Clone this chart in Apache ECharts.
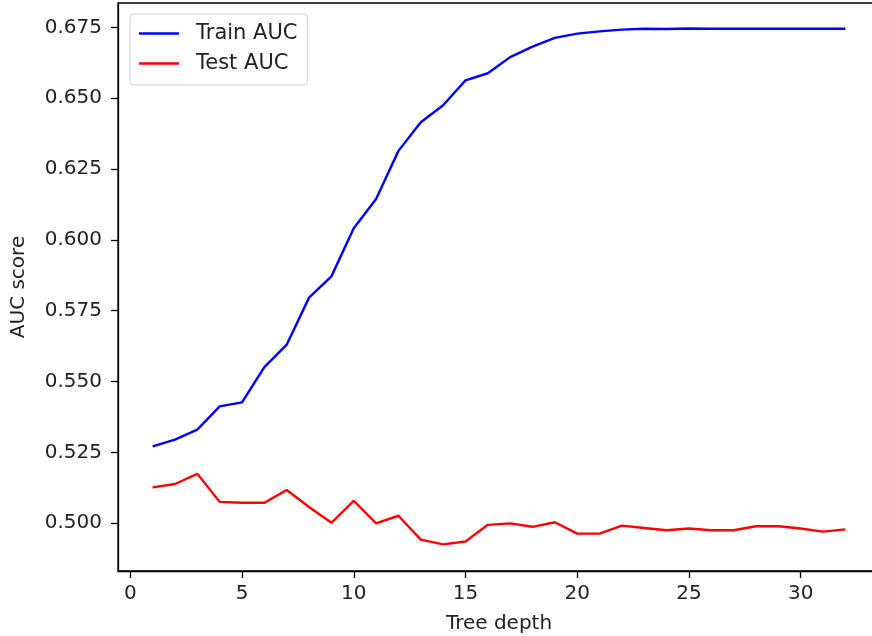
<!DOCTYPE html>
<html>
<head>
<meta charset="utf-8">
<script src="https://cdn.jsdelivr.net/npm/echarts@6/dist/echarts.min.js"></script>
<style>html,body{margin:0;padding:0;background:#fff}#c{width:872px;height:636px}</style>
</head>
<body>
<div id="c"></div>
<script>
const depths = [1,2,3,4,5,6,7,8,9,10,11,12,13,14,15,16,17,18,19,20,21,22,23,24,25,26,27,28,29,30,31,32];
const trainAUC = [0.5271,0.5295,0.5330,0.5412,0.5426,0.5551,0.5630,0.5796,0.5871,0.6041,0.6144,0.6314,0.6415,0.6475,0.6563,0.6588,0.6645,0.6682,0.6713,0.6728,0.6736,0.6742,0.6745,0.6744,0.6746,0.6745,0.6745,0.6745,0.6745,0.6745,0.6745,0.6745];
const testAUC = [0.5126,0.5138,0.5174,0.5075,0.5072,0.5072,0.5117,0.5057,0.5001,0.5079,0.4999,0.5026,0.4942,0.4925,0.4935,0.4994,0.4999,0.4987,0.5003,0.4963,0.4963,0.4991,0.4983,0.4975,0.4981,0.4975,0.4975,0.4989,0.4989,0.4981,0.4970,0.4978];
const xTicks = [0,5,10,15,20,25,30];
const yTicks = [0.500,0.525,0.550,0.575,0.600,0.625,0.650,0.675];
const seriesNames = ['Train AUC','Test AUC'];

const font = 'DejaVu Sans';
const txt = '#222';
const chart = echarts.init(document.getElementById('c'));
chart.setOption({
  animation: false,
  backgroundColor: '#fff',
  textStyle: {fontFamily: font},
  grid: {left: 118, top: 3, width: 762, height: 568, outerBoundsMode: 'none', show: true, borderColor: '#000', borderWidth: 1.3, containLabel: false},
  legend: {
    orient: 'vertical', left: 130, top: 14,
    data: seriesNames,
    icon: 'rect',
    itemWidth: 40, itemHeight: 2.5, itemGap: 9,
    padding: [9, 10, 11, 9],
    backgroundColor: '#fff', borderColor: '#d0d0d0', borderWidth: 1, borderRadius: 4,
    textStyle: {fontFamily: font, fontSize: 21, color: txt, padding: [0,0,0,12]}
  },
  xAxis: {
    type: 'value', min: -0.55, max: 33.55,
    name: 'Tree depth', nameLocation: 'middle', nameGap: 43,
    nameTextStyle: {fontFamily: font, fontSize: 20, color: txt},
    axisLine: {show: true, onZero: false, lineStyle: {color: '#000', width: 1.3}},
    axisTick: {show: true, length: 7, customValues: xTicks, lineStyle: {color: '#000', width: 1.3}},
    axisLabel: {customValues: xTicks, margin: 13, fontSize: 20, color: txt, fontFamily: font},
    splitLine: {show: false}
  },
  yAxis: {
    type: 'value', min: 0.4831, max: 0.6836,
    name: 'AUC score', nameLocation: 'middle', nameGap: 89, nameRotate: 90,
    nameTextStyle: {fontFamily: font, fontSize: 20, color: txt},
    axisLine: {show: true, onZero: false, lineStyle: {color: '#000', width: 1.3}},
    axisTick: {show: true, length: 7, customValues: yTicks, lineStyle: {color: '#000', width: 1.3}},
    axisLabel: {customValues: yTicks, margin: 16, fontSize: 20, color: txt, fontFamily: font,
      formatter: v => v.toFixed(3)},
    splitLine: {show: false}
  },
  series: [
    {name: seriesNames[0], type: 'line', data: depths.map((d,i)=>[d, trainAUC[i]]), symbol: 'none', lineStyle: {color: '#0000ff', width: 2.4}, itemStyle: {color: '#0000ff'}},
    {name: seriesNames[1], type: 'line', data: depths.map((d,i)=>[d, testAUC[i]]), symbol: 'none', lineStyle: {color: '#ff0000', width: 2.4}, itemStyle: {color: '#ff0000'}}
  ]
});
</script>
</body>
</html>
